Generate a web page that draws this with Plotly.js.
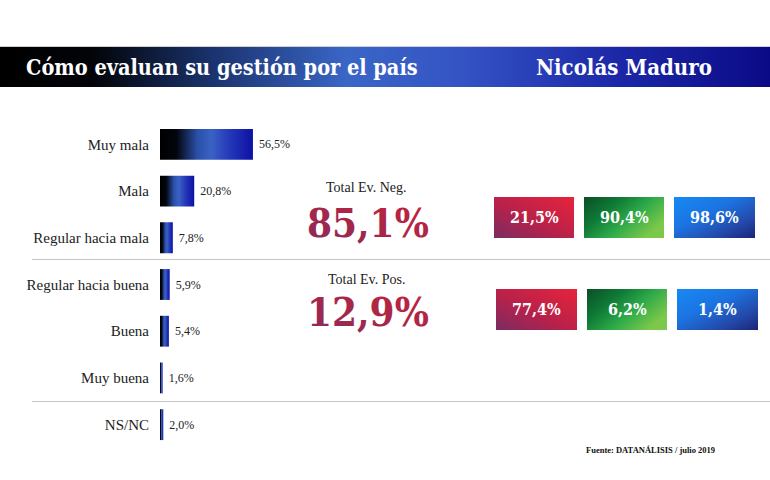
<!DOCTYPE html>
<html><head><meta charset="utf-8">
<script src="https://cdn.plot.ly/plotly-3.0.1.min.js"></script>
<style>html,body{margin:0;padding:0;background:#fff}#chart{width:770px;height:480px}</style>
</head><body><div id="chart"></div>
<script>
// ---- data ----
const categories = ['Muy mala','Mala','Regular hacia mala','Regular hacia buena','Buena','Muy buena','NS/NC'];
const values = [56.5, 20.8, 7.8, 5.9, 5.4, 1.6, 2.0];
const negCats = ['Muy mala','Mala','Regular hacia mala'];
const posCats = ['Regular hacia buena','Buena','Muy buena'];
const negLabel = 'Total Ev. Neg.';
const posLabel = 'Total Ev. Pos.';
const negRow = [21.5, 90.4, 98.6];
const posRow = [77.4, 6.2, 1.4];
const titleLeft = 'Cómo evaluan su gestión por el país';
const titleRight = 'Nicolás Maduro';
const sourceText = 'Fuente: DATANÁLISIS / julio 2019';

// ---- helpers ----
const W = 770, H = 480;
const fx = x => x / W;
const fy = y => 1 - y / H;
const fmt = v => v.toFixed(1).replace('.', ',') + '%';
const sumOf = cats => cats.reduce((s, c) => s + values[categories.indexOf(c)], 0);
const negTotal = sumOf(negCats);
const posTotal = sumOf(posCats);

const SERIF = '"Liberation Serif", "DejaVu Serif", serif';
const SLAB = '"DejaVu Serif Condensed", "DejaVu Serif", serif';

const trace = {
  type: 'bar', orientation: 'h',
  y: categories, x: values,
  width: 0.66,
  marker: {color: '#2340b0', line: {width: 0}},
  text: values.map(v => '\u00a0' + fmt(v)),
  textposition: 'outside',
  textfont: {family: SERIF, size: 12, color: '#222'},
  cliponaxis: false,
  hoverinfo: 'none'
};

// box layout (pixel rects)
const rowBoxes = [
  {vals: negRow, y0: 197, y1: 238, xs: [[494,574],[584,664],[674,755]]},
  {vals: posRow, y0: 289, y1: 330, xs: [[496,577],[587,667],[677,758]]}
];
const boxFallback = ['#b8234a', '#1a8a40', '#1f62d0'];
const boxGrad = ['gRed', 'gGreen', 'gBlue'];

const shapes = [];
const shapeGrad = {};
// title bar
shapeGrad[shapes.length] = 'gTitle';
shapes.push({type:'rect', xref:'paper', yref:'paper', x0:0, x1:1, y0:fy(87), y1:fy(47),
  fillcolor:'#1f3aa0', line:{width:0}, layer:'above'});
shapes.push({type:'line', xref:'paper', yref:'paper', x0:0, x1:1, y0:fy(46.5), y1:fy(46.5),
  line:{color:'#d0d0d0', width:1}});
// separators
[259.5, 401.5].forEach(y => shapes.push({type:'line', xref:'paper', yref:'paper',
  x0:fx(32), x1:1, y0:fy(y), y1:fy(y), line:{color:'#c4c4c4', width:1}}));
// boxes
const annotations = [];
const annGrad = {};
rowBoxes.forEach(r => {
  r.vals.forEach((v, i) => {
    const [x0, x1] = r.xs[i];
    shapeGrad[shapes.length] = boxGrad[i];
    shapes.push({type:'rect', xref:'paper', yref:'paper', x0:fx(x0), x1:fx(x1), y0:fy(r.y1), y1:fy(r.y0),
      fillcolor: boxFallback[i], line:{width:0}, layer:'above'});
    if (i === 1) {
      shapeGrad[shapes.length] = 'gYellow';
      shapes.push({type:'rect', xref:'paper', yref:'paper', x0:fx(x0), x1:fx(x1), y0:fy(r.y1), y1:fy(r.y0),
        fillcolor:'rgba(0,0,0,0)', line:{width:0}, layer:'above'});
    }
    annotations.push({xref:'paper', yref:'paper', x:fx((x0+x1)/2), y:fy((r.y0+r.y1)/2),
      xanchor:'center', yanchor:'middle', showarrow:false, text:'<b>' + fmt(v) + '</b>',
      font:{family:SLAB, size:16, color:'#ffffff'}});
  });
});

// titles
annotations.push({xref:'paper', yref:'paper', x:fx(24), y:fy(67), xanchor:'left', yanchor:'middle',
  showarrow:false, text:'<b>' + titleLeft + '</b>', font:{family:SLAB, size:21.5, color:'#fff'}});
annotations.push({xref:'paper', yref:'paper', x:fx(534), y:fy(67), xanchor:'left', yanchor:'middle',
  showarrow:false, text:'<b>' + titleRight + '</b>', font:{family:SLAB, size:22, color:'#fff'}});
// totals
annotations.push({xref:'paper', yref:'paper', x:fx(366), y:fy(187), xanchor:'center', yanchor:'middle',
  showarrow:false, text:negLabel, font:{family:SERIF, size:14, color:'#222'}});
annGrad[annotations.length] = 'gText';
annotations.push({xref:'paper', yref:'paper', x:fx(368), y:fy(222), xanchor:'center', yanchor:'middle',
  showarrow:false, text:'<b>' + fmt(negTotal) + '</b>', font:{family:SLAB, size:40, color:'#a8264a'}});
annotations.push({xref:'paper', yref:'paper', x:fx(366), y:fy(279), xanchor:'center', yanchor:'middle',
  showarrow:false, text:posLabel, font:{family:SERIF, size:14, color:'#222'}});
annGrad[annotations.length] = 'gText';
annotations.push({xref:'paper', yref:'paper', x:fx(368), y:fy(311), xanchor:'center', yanchor:'middle',
  showarrow:false, text:'<b>' + fmt(posTotal) + '</b>', font:{family:SLAB, size:40, color:'#a8264a'}});
// source
annotations.push({xref:'paper', yref:'paper', x:fx(650), y:fy(450), xanchor:'center', yanchor:'middle',
  showarrow:false, text:'<b>' + sourceText + '</b>', font:{family:SERIF, size:8.5, color:'#111'}});

const layout = {
  width: W, height: H,
  margin: {l:0, r:0, t:0, b:0},
  paper_bgcolor: '#ffffff', plot_bgcolor: 'rgba(0,0,0,0)',
  showlegend: false,
  xaxis: {domain:[fx(160), fx(160) + 164.5/W], range:[0,100], visible:false, fixedrange:true},
  yaxis: {domain:[fy(448), fy(121)], type:'category', autorange:'reversed',
    showgrid:false, zeroline:false, showline:false,
    ticks:'outside', ticklen:7, tickcolor:'rgba(0,0,0,0)',
    tickfont:{family:SERIF, size:15, color:'#222'}, fixedrange:true},
  shapes, annotations
};

function addGradients(gd) {
  const svg = gd.querySelector('svg.main-svg');
  const NS = 'http://www.w3.org/2000/svg';
  let defs = svg.querySelector('defs');
  if (!defs) { defs = document.createElementNS(NS, 'defs'); svg.insertBefore(defs, svg.firstChild); }
  function addStops(g, stops) {
    stops.forEach(s => { const st = document.createElementNS(NS, 'stop');
      st.setAttribute('offset', s[0]); st.setAttribute('stop-color', s[1]);
      if (s[2] !== undefined) st.setAttribute('stop-opacity', s[2]); g.appendChild(st); });
    defs.appendChild(g);
  }
  function lin(id, x1, y1, x2, y2, stops) {
    const g = document.createElementNS(NS, 'linearGradient');
    g.setAttribute('id', id);
    g.setAttribute('x1', x1); g.setAttribute('y1', y1); g.setAttribute('x2', x2); g.setAttribute('y2', y2);
    addStops(g, stops);
  }
  function rad(id, cx, cy, r, stops) {
    const g = document.createElementNS(NS, 'radialGradient');
    g.setAttribute('id', id); g.setAttribute('cx', cx); g.setAttribute('cy', cy); g.setAttribute('r', r);
    addStops(g, stops);
  }
  lin('gTitle', 0, 0, 1, 0, [[0,'#000000'],[0.12,'#020408'],[0.28,'#1b3470'],[0.45,'#3a66c6'],[0.6,'#3453c4'],[0.8,'#1c28a8'],[1,'#0b0a86']]);
  lin('gBar', 0, 0, 1, 0, [[0,'#000000'],[0.18,'#03060f'],[0.4,'#2a4fa8'],[0.55,'#3a62c4'],[0.75,'#2438b8'],[1,'#0d10a4']]);
  lin('gRed', 0, 1, 1, 0, [[0,'#7a2c62'],[0.45,'#b8214a'],[1,'#e8233c']]);
  lin('gGreen', 0, 0, 1, 0.6, [[0,'#0a4f26'],[0.35,'#0f7a36'],[0.65,'#2eaa4a'],[1,'#7cc84a']]);
  rad('gYellow', 0.08, 1.0, 0.45, [[0,'#f2ee2a',0.95],[0.5,'#b8d830',0.5],[1,'#60c040',0]]);
  lin('gBlue', 0, 0, 1, 1, [[0,'#178af2'],[0.4,'#1b74e2'],[0.75,'#2448a8'],[1,'#1a2478']]);
  lin('gText', 0, 1, 1, 0, [[0,'#8a2a5c'],[0.5,'#a82748'],[1,'#c8203c']]);

  gd.querySelectorAll('.barlayer .point path').forEach(p => { p.style.fill = 'url(#gBar)'; });
  gd.querySelectorAll('.shapelayer path').forEach(p => {
    const idx = p.getAttribute('data-index');
    if (idx !== null && shapeGrad[idx]) p.style.fill = 'url(#' + shapeGrad[idx] + ')';
  });
  gd.querySelectorAll('.annotation').forEach(a => {
    const idx = a.getAttribute('data-index');
    if (idx !== null && annGrad[idx]) a.querySelectorAll('text, tspan').forEach(t => { t.style.fill = 'url(#' + annGrad[idx] + ')'; });
  });
}

const gd = document.getElementById('chart');
Plotly.newPlot(gd, [trace], layout, {staticPlot:true, displayModeBar:false}).then(addGradients);
</script>
</body></html>
